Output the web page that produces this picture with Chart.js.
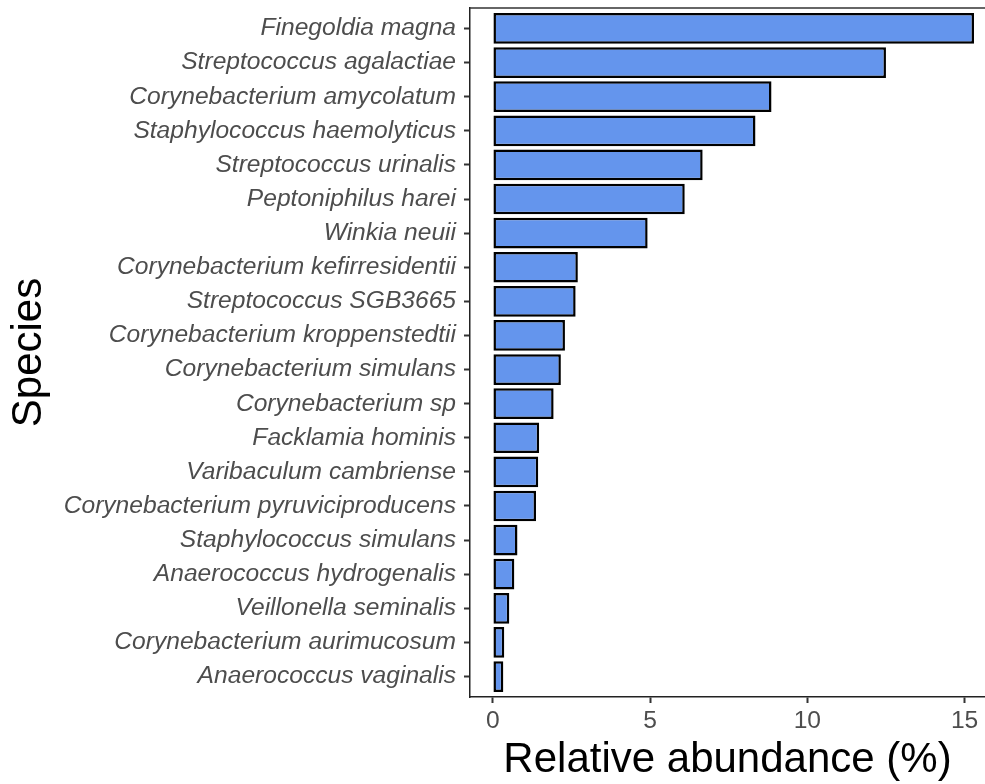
<!DOCTYPE html>
<html lang="en">
<head>
    <meta charset="UTF-8">
    <title>Relative abundance by species</title>
    <script src="https://cdn.jsdelivr.net/npm/chart.js"></script>
    <style>
        body { margin: 0; background: #fff; }
        canvas { display: block; }
    </style>
</head>
<body>
    <canvas id="myChart" width="985" height="784"></canvas>

    <script>
        // species, top to bottom
        const species = [
            'Finegoldia magna',
            'Streptococcus agalactiae',
            'Corynebacterium amycolatum',
            'Staphylococcus haemolyticus',
            'Streptococcus urinalis',
            'Peptoniphilus harei',
            'Winkia neuii',
            'Corynebacterium kefirresidentii',
            'Streptococcus SGB3665',
            'Corynebacterium kroppenstedtii',
            'Corynebacterium simulans',
            'Corynebacterium sp',
            'Facklamia hominis',
            'Varibaculum cambriense',
            'Corynebacterium pyruviciproducens',
            'Staphylococcus simulans',
            'Anaerococcus hydrogenalis',
            'Veillonella seminalis',
            'Corynebacterium aurimucosum',
            'Anaerococcus vaginalis'
        ];
        const abundance = [
            15.3, 12.5, 8.86, 8.35, 6.67, 6.1, 4.92, 2.7, 2.63, 2.29,
            2.16, 1.93, 1.47, 1.44, 1.37, 0.78, 0.68, 0.52, 0.36, 0.33
        ];
        const xTicks = [0, 5, 10, 15];

        const points = abundance.map((v, i) => ({ x: v, y: i + 1 }));

        // line on top of the panel
        const topLine = {
            id: 'topLine',
            afterDraw(chart) {
                const { ctx, chartArea } = chart;
                ctx.save();
                ctx.strokeStyle = '#333';
                ctx.lineWidth = 1.5;
                ctx.beginPath();
                ctx.moveTo(chartArea.left, chartArea.top);
                ctx.lineTo(chartArea.right, chartArea.top);
                ctx.stroke();
                ctx.restore();
            }
        };

        const tickFont = { family: 'Liberation Sans, Arial, sans-serif', size: 24.6 };
        const titleFont = { family: 'Liberation Sans, Arial, sans-serif', size: 42 };

        new Chart(document.getElementById('myChart'), {
            type: 'bar',
            data: {
                datasets: [{
                    data: points,
                    backgroundColor: '#6495ED',
                    borderColor: '#000',
                    borderWidth: 2.5,
                    borderSkipped: false,
                    barPercentage: 0.9,
                    categoryPercentage: 1
                }]
            },
            options: {
                indexAxis: 'y',
                responsive: false,
                animation: false,
                layout: { padding: { top: 8, right: 0, bottom: 0, left: 0 } },
                plugins: {
                    legend: { display: false },
                    tooltip: { enabled: false }
                },
                scales: {
                    x: {
                        type: 'linear',
                        min: -0.73,
                        max: 15.65,
                        afterBuildTicks(scale) {
                            scale.ticks = xTicks.map(v => ({ value: v }));
                        },
                        afterFit(scale) {
                            scale.height = 87;
                            scale.paddingLeft = 0;
                            scale.paddingRight = 0;
                        },
                        grid: { drawOnChartArea: false, drawTicks: true, tickLength: 6, tickWidth: 2, tickColor: '#333' },
                        border: { display: true, color: '#222', width: 1.5 },
                        ticks: { font: tickFont, color: '#4d4d4d', padding: 3 },
                        title: {
                            display: true,
                            text: 'Relative abundance (%)',
                            font: titleFont,
                            color: '#000',
                            padding: { top: 0, bottom: -2 }
                        }
                    },
                    y: {
                        type: 'linear',
                        reverse: true,
                        offset: false,
                        min: 0.4,
                        max: species.length + 0.6,
                        afterBuildTicks(scale) {
                            scale.ticks = species.map((s, i) => ({ value: i + 1 }));
                        },
                        afterFit(scale) {
                            scale.width = 470;
                            scale.paddingTop = 0;
                            scale.paddingBottom = 0;
                        },
                        grid: { offset: false, drawOnChartArea: false, drawTicks: true, tickLength: 6, tickWidth: 2, tickColor: '#333' },
                        border: { display: true, color: '#222', width: 1.5 },
                        ticks: {
                            font: Object.assign({ style: 'italic' }, tickFont),
                            color: '#4d4d4d',
                            padding: 8,
                            autoSkip: false,
                            callback: v => species[v - 1]
                        },
                        title: {
                            display: true,
                            text: 'Species',
                            font: titleFont,
                            color: '#000',
                            padding: { top: 4, bottom: 0 }
                        }
                    }
                }
            },
            plugins: [topLine]
        });
    </script>
</body>
</html>
